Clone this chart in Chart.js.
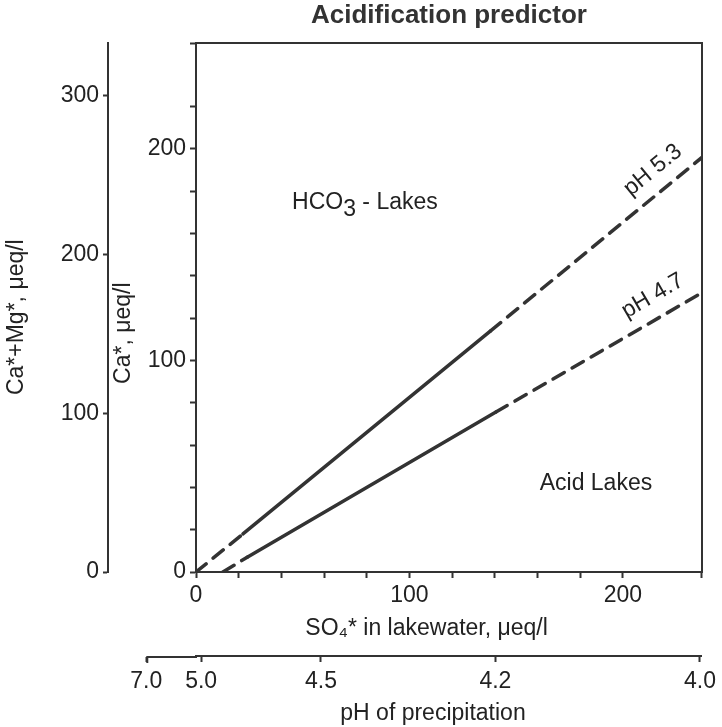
<!DOCTYPE html>
<html>
<head>
<meta charset="utf-8">
<title>Acidification predictor</title>
<script src="https://cdn.jsdelivr.net/npm/chart.js@4.4.1/dist/chart.umd.min.js"></script>
<style>
  html, body { margin: 0; padding: 0; background: #fff; }
  canvas { display: block; }
</style>
</head>
<body>
<canvas id="chart" width="722" height="727"></canvas>
<script>
// Valeurs (SO4* en x, Ca* en y)
const ph53X = [0, 22, 138, 237];
const ph53Y = [0, 18, 114, 196];
const ph47X = [12.6, 24, 140.5, 237];
const ph47Y = [0, 7, 75.6, 132];
// segments en tirets (index du premier point du segment)
const dashedSegs = [0, 2];

// étiquettes des axes
const so4Labels = [0, 100, 200];
const caLabels = [0, 100, 200];
const caMgLabels = [0, 100, 200, 300];
const phTicks = [7.0, 5.0, 4.5, 4.2, 4.0];

// textes dans le graphique (coordonnées en unités des données)
const notes = [
    { parts: ['HCO', '3', ' - Lakes'], x: 45, y: 174.5 },
    { parts: ['Acid Lakes'], x: 161, y: 42 }
];
const lineLabels = [
    { text: 'pH 5.3', x: 214, y: 190, lx: ph53X, ly: ph53Y },
    { text: 'pH 4.7', x: 214, y: 130.5, ly: ph47Y, lx: ph47X }
];

const FONT = "'Liberation Sans', Arial, Helvetica, sans-serif";
const INK = '#222';
const LINE = '#333';
const tickFont = { family: FONT, size: 23 };
const sp = n => '\u00A0'.repeat(n); // décale les titres comme sur l'original

// H+ (µeq/l) pour un pH donné : l'échelle du pH des précipitations est linéaire en H+
const hPlus = ph => Math.pow(10, 6 - ph);

function toPts(xs, ys) {
    return xs.map((x, i) => ({ x: x, y: ys[i] }));
}

function lineSet(xs, ys) {
    return {
        data: toPts(xs, ys),
        showLine: true,
        borderColor: LINE,
        borderWidth: 3.5,
        borderCapStyle: 'round',
        pointRadius: 0,
        xAxisID: 'x',
        yAxisID: 'y',
        segment: {
            borderDash: ctx => dashedSegs.includes(ctx.p0DataIndex) ? [13, 9] : undefined
        }
    };
}

const extras = {
    id: 'extras',
    afterDatasetsDraw(chart) {
        const ctx = chart.ctx;
        const sx = chart.scales.x, sy = chart.scales.y;
        ctx.save();
        ctx.fillStyle = INK;
        ctx.font = '23px ' + FONT;
        ctx.textBaseline = 'middle';
        ctx.textAlign = 'left';
        notes.forEach(n => {
            let px = sx.getPixelForValue(n.x);
            const py = sy.getPixelForValue(n.y);
            n.parts.forEach((t, i) => {
                // la 2e partie de "HCO3" est en indice
                const dy = (n.parts.length > 1 && i === 1) ? 7 : 0;
                ctx.fillText(t, px, py + dy);
                px += ctx.measureText(t).width;
            });
        });
        ctx.textAlign = 'center';
        lineLabels.forEach(l => {
            const x0 = sx.getPixelForValue(l.lx[0]), y0 = sy.getPixelForValue(l.ly[0]);
            const n = l.lx.length - 1;
            const x1 = sx.getPixelForValue(l.lx[n]), y1 = sy.getPixelForValue(l.ly[n]);
            const ang = Math.atan2(y1 - y0, x1 - x0);
            ctx.save();
            ctx.translate(sx.getPixelForValue(l.x), sy.getPixelForValue(l.y));
            ctx.rotate(ang);
            ctx.fillText(l.text, 0, 0);
            ctx.restore();
        });
        ctx.restore();
    },
    afterDraw(chart) {
        // l'axe du pH dépasse à gauche jusqu'à pH 7.0
        const s = chart.scales.x2;
        const ctx = chart.ctx;
        const x0 = s.getPixelForValue(hPlus(phTicks[0]));
        const y = s.top + 1;
        ctx.save();
        ctx.strokeStyle = LINE;
        ctx.lineWidth = 2;
        ctx.beginPath();
        ctx.moveTo(x0, y);
        ctx.lineTo(s.left + 1, y);
        ctx.moveTo(x0 + 1, y);
        ctx.lineTo(x0 + 1, y + 6);
        ctx.stroke();
        ctx.restore();
    }
};

new Chart(document.getElementById('chart'), {
    type: 'scatter',
    data: {
        datasets: [lineSet(ph53X, ph53Y), lineSet(ph47X, ph47Y)]
    },
    options: {
        responsive: false,
        animation: false,
        layout: { padding: { left: 0, right: 17, top: 0, bottom: 0 } },
        plugins: {
            legend: { display: false },
            tooltip: { enabled: false },
            title: {
                display: true,
                fullSize: false,
                text: 'Acidification predictor',
                color: LINE,
                font: { family: FONT, size: 26, weight: 'bold' },
                padding: { top: 0, bottom: 12 }
            }
        },
        scales: {
            x: {
                type: 'linear', position: 'bottom', weight: 0,
                min: 0, max: 237,
                border: { color: LINE, width: 2 },
                grid: { drawOnChartArea: false, tickLength: 6, tickColor: LINE, tickWidth: 2 },
                ticks: {
                    stepSize: 20, autoSkip: false, maxRotation: 0, padding: 4,
                    color: INK, font: tickFont,
                    callback: v => so4Labels.includes(v) ? String(v) : ''
                },
                title: {
                    display: true, text: 'SO\u2084* in lakewater, \u03BCeq/l' + sp(7),
                    color: INK, font: tickFont, padding: { top: 0, bottom: 14 }
                },
                afterFit: s => { s.height = 84; }
            },
            x2: {
                type: 'linear', position: 'bottom', weight: 1,
                min: 9.07, max: 100.36,
                border: { color: LINE, width: 2 },
                grid: { drawOnChartArea: false, tickLength: 6, tickColor: LINE, tickWidth: 2 },
                afterBuildTicks: s => { s.ticks = phTicks.map(p => ({ value: hPlus(p) })); },
                ticks: {
                    autoSkip: false, maxRotation: 0, padding: 6,
                    color: INK, font: tickFont,
                    callback: (v, i) => phTicks[i].toFixed(1)
                },
                title: {
                    display: true, text: 'pH of precipitation' + sp(5),
                    color: INK, font: tickFont, padding: { top: 0, bottom: 0 }
                },
                afterFit: s => { s.height = 71; }
            },
            xT: {
                type: 'linear', position: 'top', min: 0, max: 1,
                border: { color: LINE, width: 2 },
                grid: { display: false },
                ticks: { display: false },
                afterFit: s => { s.height = 0; }
            },
            y: {
                type: 'linear', position: 'left', weight: 0,
                min: 0, max: 250,
                border: { color: LINE, width: 2 },
                grid: { drawOnChartArea: false, tickLength: 6, tickColor: LINE, tickWidth: 2 },
                ticks: {
                    stepSize: 20, autoSkip: false, padding: 4,
                    color: INK, font: tickFont,
                    callback: v => caLabels.includes(v) ? String(v) : ''
                },
                title: {
                    display: true, text: 'Ca*, \u03BCeq/l' + sp(8),
                    color: INK, font: tickFont, padding: { top: 2, bottom: 0 }
                },
                afterFit: s => { s.width = 88; }
            },
            y2: {
                type: 'linear', position: 'left', weight: 1,
                min: 0, max: 333,
                border: { color: LINE, width: 2 },
                grid: { drawOnChartArea: false, tickLength: 5, tickColor: LINE, tickWidth: 2 },
                ticks: {
                    stepSize: 100, includeBounds: false, autoSkip: false, padding: 4,
                    color: INK, font: tickFont,
                    callback: v => caMgLabels.includes(v) ? String(v) : ''
                },
                title: {
                    display: true, text: 'Ca*+Mg*, \u03BCeq/l' + sp(3),
                    color: INK, font: tickFont, padding: { top: 3, bottom: 0 }
                },
                afterFit: s => { s.width = 108; }
            },
            yR: {
                type: 'linear', position: 'right', min: 0, max: 1,
                border: { color: LINE, width: 2 },
                grid: { display: false },
                ticks: { display: false },
                afterFit: s => { s.width = 0; }
            }
        }
    },
    plugins: [extras]
});
</script>
</body>
</html>
